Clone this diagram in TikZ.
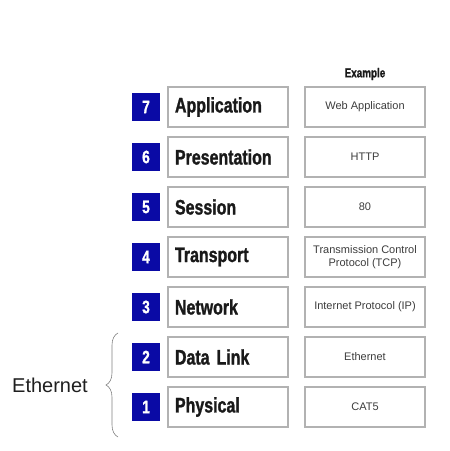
\documentclass[tikz,border=0pt]{standalone}
\usepackage{fontspec}
\setmainfont{Liberation Sans}
\newfontfamily\layerfont[FakeStretch=0.76, FakeBold=1.2]{Liberation Sans}
\usepackage{tikz}
\usetikzlibrary{decorations.pathreplacing}
\definecolor{layerblue}{RGB}{10,10,165}
\definecolor{boxgray}{RGB}{178,178,178}
\definecolor{inkgray}{RGB}{60,60,60}
\tikzset{>=latex}

\begin{document}
\begin{tikzpicture}[x=1pt, y=1pt]
                % N = layer number, L = layer name, E = example
                \useasboundingbox (0,0) rectangle (450,451);
                \tikzstyle{num}=[fill=layerblue, text=white, minimum size=28pt, inner sep=0pt, node distance=50pt, font=\layerfont\bfseries\fontsize{18}{18}\selectfont]
                \tikzstyle{layer}=[draw=boxgray, line width=1.3pt, minimum height=40pt, text width=106pt, inner xsep=7pt, align=left, node distance=50pt, text=black!90, font=\layerfont\bfseries\fontsize{21}{23}\selectfont]
                \tikzstyle{example}=[draw=boxgray, line width=1.3pt, minimum height=40pt, minimum width=120pt, align=center, node distance=50pt, text=inkgray, font=\fontsize{11}{13}\selectfont]
                \node[num] (N7) at (146,344) {7};
                \node[layer] (L7) at (228,344) {Application};
                \node[example] (E7) at (365,344) {Web Application};
                \node[num] (N6) [below of = N7] {6};
                \node[layer] (L6) [below of = L7] {Presentation};
                \node[example] (E6) [below of = E7] {HTTP};
                \node[num] (N5) [below of = N6] {5};
                \node[layer] (L5) [below of = L6] {Session};
                \node[example] (E5) [below of = E6] {80};
                \node[num] (N4) [below of = N5] {4};
                \node[layer] (L4) [below of = L5] {Transport};
                \node[example] (E4) [below of = E5] {Transmission Control\\Protocol (TCP)};
                \node[num] (N3) [below of = N4] {3};
                \node[layer] (L3) [below of = L4] {Network};
                \node[example] (E3) [below of = E4] {Internet Protocol (IP)};
                \node[num] (N2) [below of = N3] {2};
                \node[layer] (L2) [below of = L3] {Data Link};
                \node[example] (E2) [below of = E3] {Ethernet};
                \node[num] (N1) [below of = N2] {1};
                \node[layer] (L1) [below of = L2] {Physical};
                \node[example] (E1) [below of = E2] {CAT5};
                \node[font=\layerfont\bfseries\fontsize{13}{15}\selectfont, text=black!90] (Ex) [above of = E7, node distance=33pt] {Example};
                % brace over layers 1 and 2
                \coordinate (Bbot) at (118,14);
                \coordinate (Btop) at (118,118);
                \draw[gray, line width=0.6pt, decorate, decoration={brace, amplitude=12pt}] (Bbot) -- (Btop);
                \node[font=\fontsize{20}{22}\selectfont, text=black!88] (Eth) at (50,66) {Ethernet};
        \end{tikzpicture}
\end{document}
